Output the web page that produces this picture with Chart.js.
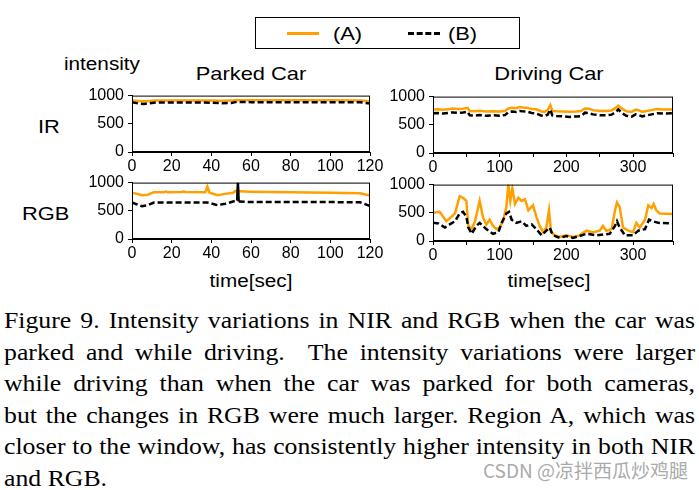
<!DOCTYPE html>
<html>
<head>
<meta charset="utf-8">
<script src="https://cdn.jsdelivr.net/npm/chart.js@4"></script>
<style>
  body { margin: 0; background: #fff; width: 699px; height: 490px; overflow: hidden; position: relative; font-family: "Liberation Sans", Arial, sans-serif; }
  canvas { position: absolute; }
  .lbl { position: absolute; color: #000; white-space: nowrap; line-height: 1; transform: scaleX(1.15); transform-origin: left center; }
  .mid { transform-origin: center center; text-align: center; width: 200px; }
  #legend { position: absolute; left: 255px; top: 17px; width: 263px; height: 30px; border: 1px solid #000; }
  #captext { position: absolute; left: 4px; top: 0; width: 617px; transform: scaleX(1.12); transform-origin: left top; }
  .cap { position: absolute; left: 0; width: 617px; font-family: "Liberation Serif", "Times New Roman", serif; font-size: 23px; line-height: 1; white-space: nowrap; text-align: justify; text-align-last: justify; color: #000; }
</style>
</head>
<body>

<div id="legend">
  <div style="position:absolute;left:31px;top:14px;width:32px;height:3px;background:#ffa000"></div>
  <div class="lbl" style="left:77px;top:6px;font-size:19px">(A)</div>
  <div style="position:absolute;left:152px;top:14px;width:32px;height:0;border-top:3px dashed #000"></div>
  <div class="lbl" style="left:192px;top:6px;font-size:19px">(B)</div>
</div>

<div class="lbl" style="left:64px;top:55px;font-size:18px">intensity</div>
<div class="lbl mid" style="left:151px;top:64px;font-size:19px">Parked Car</div>
<div class="lbl mid" style="left:449px;top:64px;font-size:19px">Driving Car</div>
<div class="lbl" style="left:38px;top:117px;font-size:19px">IR</div>
<div class="lbl" style="left:22px;top:204px;font-size:19px">RGB</div>
<div class="lbl mid" style="left:151px;top:272px;font-size:18px">time[sec]</div>
<div class="lbl mid" style="left:449px;top:272px;font-size:18px">time[sec]</div>

<canvas id="parkedIR" width="318" height="100" style="left:72px;top:82px"></canvas>
<canvas id="parkedRGB" width="318" height="100" style="left:72px;top:169px"></canvas>
<canvas id="drivingIR" width="320" height="100" style="left:373px;top:83px"></canvas>
<canvas id="drivingRGB" width="320" height="100" style="left:373px;top:171px"></canvas>

<div id="captext">
  <div class="cap" style="top:309px">Figure 9. Intensity variations in NIR and RGB when the car was</div>
  <div class="cap" style="top:341px">parked and while driving.&nbsp; The intensity variations were larger</div>
  <div class="cap" style="top:372px">while driving than when the car was parked for both cameras,</div>
  <div class="cap" style="top:404px">but the changes in RGB were much larger. Region A, which was</div>
  <div class="cap" style="top:435px">closer to the window, has consistently higher intensity in both NIR</div>
  <div class="cap" style="top:467px;text-align:left;text-align-last:left">and RGB.</div>
</div>
<div style="position:absolute;right:11px;top:460px;font-size:19px;line-height:1;white-space:nowrap;color:#aaa;font-family:'Noto Sans CJK SC','Noto Sans',sans-serif">CSDN @凉拌西瓜炒鸡腿</div>

<script>
// parked car, IR
const parkedIrTime = [0, 3, 6, 9, 12, 20, 30, 40, 45, 50, 53, 55, 60, 80, 100, 115, 120];
const parkedIrA = [912, 905, 900, 906, 914, 915, 915, 913, 910, 911, 922, 918, 916, 916, 916, 914, 900];
const parkedIrB = [882, 862, 852, 866, 876, 878, 878, 875, 866, 868, 890, 886, 884, 884, 884, 882, 860];

// parked car, RGB
const parkedRgbTime = [0, 2, 5, 8, 11, 16, 17, 18, 25, 26, 27, 37, 38, 39, 43, 47, 51, 52, 53, 53.4, 53.8, 60, 80, 100, 115, 120];
const parkedRgbA = [820, 805, 775, 785, 830, 830, 840, 830, 832, 842, 832, 830, 930, 825, 775, 800, 820, 850, 845, 845, 845, 838, 828, 820, 812, 770];
const parkedRgbB = [650, 620, 580, 600, 645, 645, 648, 645, 648, 650, 648, 645, 645, 640, 600, 625, 665, 675, 680, 1000, 665, 655, 655, 655, 650, 585];

// driving car, IR
const drivingIrTime = [0, 8, 15, 22, 30, 38, 45, 52, 55, 62, 70, 80, 90, 100, 108, 113, 118, 125, 130, 135, 142, 148, 155, 162,
  167, 172, 176, 179, 185, 195, 205, 215, 222, 228, 234, 240, 250, 260, 268, 274, 278, 283, 290, 298, 304, 308, 314, 320, 328, 336, 345, 360];
const drivingIrA = [770, 775, 765, 775, 790, 780, 785, 800, 745, 740, 748, 738, 742, 738, 745, 790, 800, 795, 815, 805, 800, 780, 775, 740,
  730, 760, 850, 745, 740, 735, 730, 735, 745, 790, 785, 760, 745, 745, 755, 800, 840, 790, 740, 728, 770, 760, 730, 745, 760, 780, 770, 770];
const drivingIrB = [705, 708, 700, 710, 720, 712, 718, 730, 670, 665, 672, 660, 668, 662, 672, 725, 735, 728, 745, 738, 730, 710, 700, 665,
  655, 680, 770, 665, 655, 650, 640, 648, 655, 715, 705, 685, 670, 670, 680, 725, 775, 710, 660, 645, 685, 675, 650, 665, 685, 705, 700, 705];

// driving car, RGB (A and B read on different time points)
const drivingRgbTimeA = [0, 10, 15, 20, 28, 33, 40, 45, 50, 53, 58, 63, 70, 75, 80, 85, 90, 95, 100, 105, 110, 113, 116, 119,
  123, 128, 133, 138, 143, 150, 155, 160, 165, 170, 174, 177, 183, 190, 200, 210, 220, 230, 240, 250, 255, 260, 268, 273,
  276, 280, 285, 293, 300, 305, 310, 318, 323, 328, 331, 335, 340, 360];
const drivingRgbA = [500, 517, 433, 350, 433, 489, 794, 767, 711, 267, 211, 350, 711, 420, 294, 378, 267, 211, 239, 350, 600, 1000, 711, 933,
  656, 767, 711, 739, 544, 633, 433, 267, 156, 239, 544, 156, 100, 72, 100, 72, 100, 183, 156, 183, 267, 183, 211, 544,
  683, 600, 239, 183, 156, 322, 239, 378, 633, 583, 656, 544, 489, 478];
const drivingRgbTimeB = [0, 8, 18, 25, 33, 40, 45, 50, 53, 58, 65, 70, 80, 90, 98, 103, 110, 114, 118, 125, 133, 140, 148, 155,
  163, 170, 175, 180, 190, 200, 210, 220, 230, 245, 265, 273, 276, 280, 288, 300, 308, 318, 324, 330, 338, 360];
const drivingRgbB = [322, 311, 239, 294, 350, 489, 517, 433, 239, 128, 267, 322, 211, 128, 156, 322, 489, 517, 378, 322, 350, 267, 294, 211,
  100, 183, 239, 100, 56, 89, 56, 89, 128, 100, 128, 267, 350, 239, 100, 100, 183, 211, 378, 350, 322, 311];

const yTicks = [0, 500, 1000];
const orange = '#ffa000';
const tickFont = { family: '"Liberation Sans", Arial, sans-serif', size: 16 };

// box around the plot area
const framePlugin = {
  id: 'frame',
  afterDraw(chart) {
    const a = chart.chartArea;
    const ctx = chart.ctx;
    ctx.save();
    ctx.strokeStyle = '#000';
    ctx.lineWidth = 1;
    ctx.strokeRect(a.left + 0.5, a.top + 0.5, a.right - a.left - 1, a.bottom - a.top - 1);
    ctx.restore();
  }
};

function pts(xs, ys) {
  return xs.map((x, i) => ({ x: x, y: ys[i] }));
}

function makeChart(id, tA, vA, tB, vB, xMax, xStep, labelEvery) {
  new Chart(document.getElementById(id), {
    type: 'line',
    data: {
      datasets: [
        { label: '(A)', data: pts(tA, vA), borderColor: orange, borderWidth: 2.5, order: 2 },
        {
          label: '(B)', data: pts(tB, vB), borderColor: '#000', borderWidth: 2.5, borderDash: [6, 3], order: 1,
          segment: { borderDash: c => (c.p0.parsed.y > 950 || c.p1.parsed.y > 950) ? [] : undefined }
        }
      ]
    },
    options: {
      responsive: false,
      animation: false,
      devicePixelRatio: 1,
      layout: { padding: { top: 10, right: 20, left: 0, bottom: 0 } },
      elements: { point: { radius: 0 }, line: { tension: 0 } },
      plugins: { legend: { display: false }, tooltip: { enabled: false } },
      scales: {
        x: {
          type: 'linear', min: 0, max: xMax,
          grid: { drawOnChartArea: false, drawTicks: true, tickLength: 4, color: '#000' },
          border: { display: true, color: '#000' },
          ticks: {
            stepSize: xStep, autoSkip: false, maxRotation: 0, padding: 1, color: '#000', font: tickFont,
            callback: v => (v % labelEvery === 0 ? String(v) : '')
          },
          afterFit: s => { s.height = 30; }
        },
        y: {
          min: 0, max: 1000,
          grid: { drawOnChartArea: false, drawTicks: true, tickLength: 4, color: '#000' },
          border: { display: true, color: '#000' },
          afterBuildTicks: s => { s.ticks = yTicks.map(v => ({ value: v })); },
          ticks: { padding: 4, color: '#000', font: tickFont, callback: v => String(v) },
          afterFit: s => { s.width = 60; }
        }
      }
    },
    plugins: [framePlugin]
  });
}

makeChart('parkedIR', parkedIrTime, parkedIrA, parkedIrTime, parkedIrB, 120, 20, 20);
makeChart('parkedRGB', parkedRgbTime, parkedRgbA, parkedRgbTime, parkedRgbB, 120, 20, 20);
makeChart('drivingIR', drivingIrTime, drivingIrA, drivingIrTime, drivingIrB, 360, 50, 100);
makeChart('drivingRGB', drivingRgbTimeA, drivingRgbA, drivingRgbTimeB, drivingRgbB, 360, 50, 100);
</script>
</body>
</html>
